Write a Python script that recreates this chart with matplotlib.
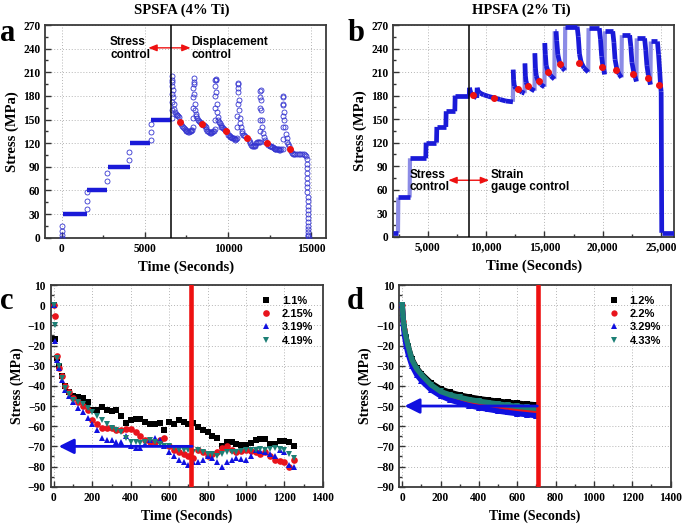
import matplotlib

matplotlib.use("Agg")
import matplotlib.pyplot as plt
from matplotlib.ticker import MultipleLocator, StrMethodFormatter

W, H = 685, 526
SERIF = "Liberation Serif"
SANS = "Liberation Sans"
BLUE = "#1a1ad8"
LIGHT_BLUE = "#8c8ce6"
TEAL = "#1c7f75"

plt.rcParams["font.family"] = SERIF
plt.rcParams["font.weight"] = "bold"
plt.rcParams["axes.labelweight"] = "bold"

# ---------------- panel a : SPSFA (4% Ti) ----------------
a_hold_start = [50, 1530, 2760, 4100, 5380]
a_hold_end = [1500, 2730, 4080, 5330, 6580]
a_hold_stress = [30, 60, 90, 120, 150]

a_time = [0, 0, 10, 20, 1500, 1500, 1510, 2740, 2740, 4050, 4060, 5340, 5350, 5360,
          # cycle 1
          6600, 6605, 6610, 6615, 6620, 6625, 6630, 6650, 6670, 6700, 6730, 6760, 6800, 6850,
          6900, 6950, 7000, 7050, 7200, 7250, 7300, 7350, 7400, 7450, 7500, 7550, 7600, 7650,
          7700, 7750, 7800, 7850,
          # cycle 2
          7900, 7905, 7910, 7915, 7920, 7925, 7930, 7950, 7970, 8000, 8030, 8060, 8100, 8150,
          8200, 8250, 8300, 8350, 8500, 8550, 8600, 8650, 8700, 8750, 8800, 8850, 8900, 8950,
          9000, 9050, 9100, 9150,
          # cycle 3
          9220, 9225, 9230, 9235, 9240, 9245, 9250, 9270, 9290, 9310, 9340, 9370, 9400, 9450,
          9500, 9550, 9600, 9650, 9700, 9750, 9800, 9950, 10000, 10050, 10100, 10150, 10200,
          10250, 10300, 10350, 10400, 10450, 10500,
          # cycle 4
          10560, 10565, 10570, 10575, 10580, 10585, 10590, 10610, 10640, 10670, 10700, 10730,
          10770, 10820, 10870, 10920, 10970, 11050, 11250, 11300, 11350, 11400, 11450, 11500,
          11550, 11600, 11650, 11700, 11750, 11800, 11850,
          # cycle 5
          11930, 11935, 11940, 11945, 11950, 11955, 11960, 11980, 12000, 12030, 12060, 12100,
          12150, 12200, 12250, 12420, 12500, 12550, 12600, 12650, 12700, 12750, 12800, 12850,
          12900, 12950, 13000, 13050, 13100, 13150, 13200,
          # cycle 6 and unloading
          13290, 13295, 13300, 13305, 13310, 13315, 13320, 13340, 13370, 13400, 13440, 13480,
          13530, 13580, 13630, 13680, 13820, 13870, 13920, 13970, 14050, 14150, 14250, 14350,
          14450, 14550, 14650, 14700, 14750, 14755, 14760, 14765, 14770, 14775, 14780, 14785,
          14790, 14795, 14800, 14805, 14810, 14815, 14820, 14825, 14830, 14835, 14840, 14845,
          14850]
a_stress = [0, 4, 8, 15, 37, 47, 58, 72, 82, 99, 109, 124, 134, 144,
            152, 162, 172, 182, 192, 200, 205, 198, 188, 178, 170, 164, 159, 157,
            156, 156, 155, 153, 144, 142, 140, 139, 138, 137, 136, 135, 134, 134,
            135, 136, 137, 137,
            140, 152, 165, 178, 190, 198, 203, 195, 182, 170, 162, 157, 154, 152,
            150, 148, 147, 146, 143, 143, 142, 140, 138, 136, 135, 134, 133, 133,
            134, 134, 135, 135,
            138, 150, 165, 180, 192, 200, 202, 200, 185, 170, 160, 153, 150, 147,
            145, 143, 141, 140, 139, 138, 137, 134, 131, 130, 129, 128, 128,
            127, 127, 126, 125, 124, 125,
            126, 140, 155, 170, 185, 195, 197, 190, 175, 162, 152, 145,
            140, 136, 133, 131, 130, 129, 124, 122, 120, 118, 117, 116,
            116, 117, 118, 120, 122, 122, 121,
            122, 135, 150, 165, 178, 186, 187, 175, 162, 150, 140, 133,
            128, 124, 122, 118, 117, 116, 116, 115, 115, 114, 113, 113,
            112, 113, 112, 112, 111, 111, 112,
            112, 125, 140, 155, 168, 178, 180, 170, 160, 150, 140, 132,
            126, 122, 119, 116, 110, 108, 106, 106, 106, 106, 106, 106,
            106, 106, 105, 104, 100, 94, 88, 82, 76, 70, 64, 58,
            52, 46, 40, 35, 30, 25, 20, 15, 11, 7, 4, 2,
            0]
a_red_time = [7108, 8414, 9880, 11165, 12329, 13735]
a_red_stress = [147, 144, 136, 126, 120, 113]

# ---------------- panel b : HPSFA (2% Ti) ----------------
b_time = [2050, 2450, 2480, 3450, 3480, 4830, 4860, 5750, 5780, 6550, 6580, 7320, 7350, 8560,
          8580, 8650, 8800, 9000, 9200, 9240, 9300, 9500, 9800, 10200, 10700, 11200, 11700,
          12300,
          12320, 12360, 12420, 12550, 12800, 13100, 13300,
          13330, 13370, 13430, 13550, 13800, 14150,
          14180, 14230, 14300, 14450, 14700, 15000,
          15030, 15080, 15150, 15300, 15550, 15850,
          15880, 16000, 16050, 16150, 16300, 16550, 16750,
          16780, 17800, 17900, 18000, 18150, 18400, 18750,
          18780, 19700, 19800, 19900, 20000, 20100, 20150,
          20180, 20850, 20950, 21050, 21200, 21400, 21600,
          21630, 22300, 22400, 22500, 22650, 22800, 22880,
          22910, 23580, 23680, 23780, 23900, 24000, 24080,
          24110, 24680, 24780, 24880, 24950, 25000, 25050, 26100]
b_stress = [5, 5, 50, 50, 100, 100, 120, 120, 140, 140, 160, 160, 180, 180,
            190, 185, 181, 179, 177, 190, 186, 183, 181, 179, 177, 175, 173,
            172,
            213, 200, 192, 189, 187, 184, 183,
            221, 205, 197, 193, 189, 186,
            234, 215, 205, 199, 194, 191,
            247, 232, 218, 211, 205, 201,
            262, 262, 250, 232, 222, 215, 212,
            268, 268, 255, 233, 222, 215, 210,
            266, 266, 252, 230, 218, 212, 207,
            262, 262, 248, 226, 214, 207, 203,
            257, 257, 243, 222, 210, 202, 198,
            253, 253, 238, 218, 206, 199, 194,
            249, 249, 232, 210, 192, 185, 5, 5]
b_red_time = [8906, 10667, 12744, 13600, 14513, 15308, 16308, 18000, 19950, 21150, 22550, 23850, 24850]
b_red_stress = [180.5, 177, 188, 192, 198, 210, 220.5, 221, 217, 213, 208, 203, 193]

# ---------------- panel c ----------------
c_time = [0, 5, 15, 25, 40, 60, 80, 100, 125, 150, 175, 200, 225, 250, 275, 300, 325, 350,
          375, 400, 425, 450, 475, 500, 525, 550, 575, 600, 625, 650, 675, 700, 725, 750,
          775, 800, 825, 850, 875, 900, 925, 950, 975, 1000, 1025, 1050, 1075, 1100, 1125,
          1150, 1175, 1200, 1225, 1250]
c_11 = [0, -17, -26, -30, -35, -40, -43, -45, -45.5, -46, -48, -52, -52, -50.5, -52, -52.5,
        -52, -55, -58.5, -57, -56.5, -56.5, -58, -59, -59, -58.5, -62, -58, -59, -57, -58,
        -59, -58.5, -60.5, -62, -63, -65, -66, -70, -68, -68, -69, -69.5, -69.5, -68.5, -67,
        -66.5, -66.5, -69, -69, -67.5, -67.5, -68, -70]
c_215 = [0, -5.5, -25, -31, -35, -40, -43, -46, -48, -50, -52, -57, -59, -61, -61, -61,
         -62, -62, -61.5, -61.5, -63, -65, -67, -68, -68, -67, -66, -70, -72, -73, -74, -75,
         -76, -72, -73, -75, -74, -73, -71, -70, -72, -73, -72.5, -72, -72.5, -73, -74, -73,
         -75, -77, -77.5, -78, -80, -77]
c_319 = [0, -18, -27, -31, -37, -42, -45, -48, -51, -53, -56, -59, -62, -66, -67, -67, -68,
         -68, -65, -70, -71, -71, -69, -67, -66, -67, -70, -73, -75, -77, -78, -79, -78, -78,
         -77, -75, -76, -78, -80, -78, -77, -76, -76.5, -77, -75, -72, -72.5, -73, -74, -75,
         -72, -73, -79, -80]
c_419 = [0, -10, -26, -30, -36, -41, -44, -47, -48, -49, -51, -53, -55, -57, -59, -61, -62,
         -63, -66, -68, -68, -68.5, -68, -67, -68, -69, -70, -70, -71, -72, -72, -72, -73,
         -72, -73, -74, -74, -75, -74, -73, -73, -73, -72.5, -72, -72, -72, -71.5, -72, -71.5,
         -71, -71.5, -72, -74, -76]
c_labels = ["1.1%", "2.15%", "3.19%", "4.19%"]

# ---------------- panel d ----------------
d_time = [0, 5, 10, 20, 30, 50, 75, 100, 150, 200, 250, 300, 350, 400, 450, 500, 550, 600,
          650, 700]
d_12 = [0, -7, -11, -16, -20, -26.5, -31, -34, -38.5, -41.5, -43.2, -44.5, -45.5, -46.3, -47,
        -47.6, -48.1, -48.6, -49, -49.4]
d_22 = [0, -8, -12, -18, -22, -28, -33, -36, -40, -43, -45, -46.5, -47.8, -48.8, -49.7,
        -50.5, -51.2, -51.8, -52.3, -52.8]
d_329 = [0, -9, -14, -20, -24, -30, -34.5, -37.5, -42, -45, -47, -48.5, -49.8, -50.8, -51.7,
         -52.5, -53.2, -53.8, -54.3, -54.8]
d_433 = [0, -7, -11, -16, -20, -27, -31.5, -34.5, -39.5, -42.8, -44.5, -45.7, -46.8, -47.6,
         -48.3, -49, -49.6, -50.2, -50.7, -51.2]
d_labels = ["1.2%", "2.2%", "3.29%", "4.33%"]

SERIES_STYLE = [("black", "s"), ("#e8141c", "o"), ("#1010e0", "^"), (TEAL, "v")]


def make_ax(fig, left, top, right, bottom):
    return fig.add_axes([left / W, 1 - bottom / H, (right - left) / W, (bottom - top) / H])


def style_ax(ax, xmajor, xminor, ymajor, yminor):
    ax.xaxis.set_major_locator(MultipleLocator(xmajor))
    ax.xaxis.set_minor_locator(MultipleLocator(xminor))
    ax.yaxis.set_major_locator(MultipleLocator(ymajor))
    ax.yaxis.set_minor_locator(MultipleLocator(yminor))
    ax.tick_params(which="both", direction="in", labelsize=8.3, width=1.0, color="#333333")
    ax.tick_params(which="major", length=4)
    ax.tick_params(which="minor", length=2)
    ax.grid(True, which="major", linestyle=(0, (1, 2)), color="#b5b5b5", lw=0.7)
    ax.set_axisbelow(True)
    for sp in ax.spines.values():
        sp.set_color("#3a3a3a")
        sp.set_linewidth(1.3)


fig = plt.figure(figsize=(W / 100, H / 100), dpi=100)

# ---- a ----
ax = make_ax(fig, 45.3, 25, 326, 237.7)
ax.hlines(a_hold_stress, a_hold_start, a_hold_end, color=BLUE, lw=3.2, zorder=3)
ax.plot(a_time, a_stress, "o", mfc="none", mec="#3535d0", mew=0.6, ms=3.6, zorder=3)
ax.plot(a_red_time, a_red_stress, "o", color="#ee1111", ms=4, zorder=4)
ax.axvline(6550, color="black", lw=1.1, zorder=4)
ax.annotate("", xy=(5200, 241), xytext=(7750, 241),
            arrowprops=dict(arrowstyle="<|-|>,head_length=0.5,head_width=0.2",
                            color="#ee1111", lw=1.0, shrinkA=0, shrinkB=0))
ax.text(2900, 240, "Stress\ncontrol", family=SANS, fontsize=8.5, weight="bold",
        ha="left", va="center", linespacing=1.05)
ax.text(7780, 240, "Displacement\ncontrol", family=SANS, fontsize=8.5, weight="bold",
        ha="left", va="center", linespacing=1.05)
ax.set_xlim(-1000, 15900)
ax.set_ylim(0, 270)
style_ax(ax, 5000, 2500, 30, 15)
ax.set_ylabel("Stress (MPa)", fontsize=10.5, labelpad=3)
ax.set_xlabel("Time (Seconds)", fontsize=10.5)

# ---- b ----
ax = make_ax(fig, 393.3, 25, 674, 236.7)
# sparse (fast) loading jumps look lighter than the dense hold / relaxation parts
for i in range(len(b_time) - 1):
    rise = b_stress[i + 1] - b_stress[i]
    fast = rise > 25 and (b_time[i + 1] - b_time[i]) < 60
    ax.plot(b_time[i:i + 2], b_stress[i:i + 2], color=LIGHT_BLUE if fast else BLUE,
            lw=3.0 if fast else 3.4, solid_capstyle="butt", zorder=2 if fast else 3)
ax.plot(b_red_time, b_red_stress, "o", color="#ee1111", ms=4, zorder=4)
ax.axvline(8560, color="black", lw=1.1, zorder=4)
ax.annotate("", xy=(6760, 72), xytext=(10265, 72),
            arrowprops=dict(arrowstyle="<|-|>,head_length=0.5,head_width=0.2",
                            color="#ee1111", lw=1.0, shrinkA=0, shrinkB=0))
ax.text(3430, 71, "Stress\ncontrol", family=SANS, fontsize=8.5, weight="bold",
        ha="left", va="center", linespacing=1.05)
ax.text(10420, 71, "Strain\ngauge control", family=SANS, fontsize=8.5, weight="bold",
        ha="left", va="center", linespacing=1.05)
ax.set_xlim(2050, 26100)
ax.set_ylim(0, 270)
style_ax(ax, 5000, 2500, 30, 15)
ax.xaxis.set_major_formatter(StrMethodFormatter("{x:,.0f}"))
ax.set_ylabel("Stress (MPa)", fontsize=10.5, labelpad=3)
ax.set_xlabel("Time (Seconds)", fontsize=10.5)

# ---- c ----
ax = make_ax(fig, 50.7, 285, 322.7, 486.7)
for (col, mk), ys, lab in zip(SERIES_STYLE, [c_11, c_215, c_319, c_419], c_labels):
    ax.plot(c_time, ys, mk, color=col, ms=4.8, mew=0, label=lab, zorder=3)
ax.axvline(715, color="#ee1111", lw=3.3, zorder=4)
ax.annotate("", xy=(25, -70), xytext=(720, -70),
            arrowprops=dict(arrowstyle="-|>,head_length=0.9,head_width=0.45",
                            color="#1010e0", lw=2.0, mutation_scale=10,
                            shrinkA=0, shrinkB=0), zorder=5)
ax.set_xlim(-17, 1400)
ax.set_ylim(-90, 10)
style_ax(ax, 200, 100, 10, 5)
ax.legend(loc="upper right", bbox_to_anchor=(0.99, 0.98), frameon=False,
          prop=dict(family=SANS, weight="bold", size=8), handlelength=1.0,
          handletextpad=0.9, labelspacing=0.3, borderaxespad=0.2)
ax.set_ylabel("Stress (MPa)", fontsize=10, labelpad=3)
ax.set_xlabel("Time (Seconds)", fontsize=10)

# ---- d ----
ax = make_ax(fig, 399, 285, 670.5, 486.7)
for (col, mk), ys, lab in zip(SERIES_STYLE, [d_12, d_22, d_329, d_433], d_labels):
    ax.plot(d_time, ys, color=col, lw=3.8, zorder=3)
    ax.plot(d_time, ys, mk, color=col, ms=4.5, mew=0, label=lab, zorder=3)
ax.axvline(707, color="#ee1111", lw=3.3, zorder=4)
ax.annotate("", xy=(12, -50), xytext=(705, -50),
            arrowprops=dict(arrowstyle="-|>,head_length=0.9,head_width=0.45",
                            color="#1010e0", lw=2.0, mutation_scale=10,
                            shrinkA=0, shrinkB=0), zorder=5)
ax.set_xlim(-17, 1400)
ax.set_ylim(-90, 10)
style_ax(ax, 200, 100, 10, 5)
ax.legend(loc="upper right", bbox_to_anchor=(0.99, 0.98), frameon=False,
          prop=dict(family=SANS, weight="bold", size=8), handlelength=1.0,
          handletextpad=0.9, labelspacing=0.3, borderaxespad=0.2)
ax.set_ylabel("Stress (MPa)", fontsize=10, labelpad=3)
ax.set_xlabel("Time (Seconds)", fontsize=10)

# titles and panel letters
fig.text(182 / W, 1 - 10 / H, "SPSFA (4% Ti)", ha="center", va="center", fontsize=10.5)
fig.text(521 / W, 1 - 10 / H, "HPSFA (2% Ti)", ha="center", va="center", fontsize=10.5)
for letter, x, y in [("a", 0, 41), ("b", 348, 41), ("c", 0, 309), ("d", 347, 309)]:
    fig.text(x / W, 1 - y / H, letter, ha="left", va="baseline", fontsize=22)

fig.savefig("out.png", dpi=100)
